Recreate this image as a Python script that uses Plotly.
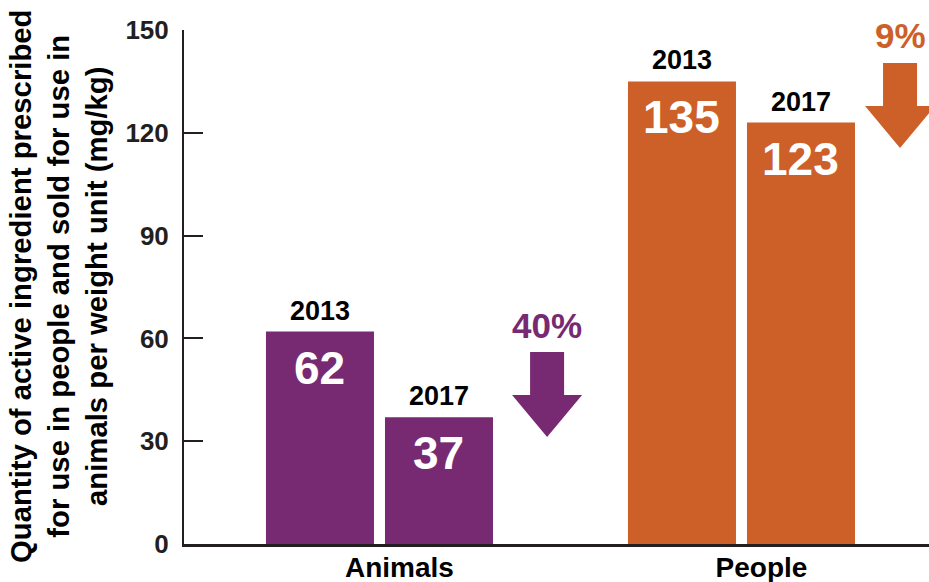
import plotly.graph_objects as go

# ---------------- data ----------------
categories = ["Animals", "People"]
years = ["2013", "2017"]
values_2013 = [62, 135]
values_2017 = [37, 123]
percent_drop = ["40%", "9%"]
y_tick_values = [0, 30, 60, 90, 120, 150]
y_title = ("Quantity of active ingredient prescribed<br>"
           "for use in people and sold for use in<br>"
           "animals per weight unit (mg/kg)")

# ---------------- style / layout constants ----------------
W, H = 929, 582
ML, MR, MT, MB = 184, 0, 30, 38
PLOT_W = W - ML - MR
PLOT_H = H - MT - MB
X_RANGE = [-0.540, 1.518]
Y_RANGE = [0, 150]
BARGAP = 0.3425
BARGROUPGAP = 0.0924
BAR_COLORS = ["#772a72", "#cd6028"]
INK = "#231f20"
FONT = "Liberation Sans, Arial, sans-serif"

# pixel -> data unit conversions
UX = (X_RANGE[1] - X_RANGE[0]) / PLOT_W
UY = (Y_RANGE[1] - Y_RANGE[0]) / PLOT_H
BAR_OFFSET = (1 - BARGAP) / 4  # centre of each bar relative to category

# arrows (decoration positions)
ARROW_X = [0.463, 0.438]      # offset from category centre
ARROW_TOP = [56.0, 140.4]     # top of arrow shaft, data units
SHAFT_HALF, HEAD_HALF, SHAFT_LEN, HEAD_LEN = 17, 35, 43, 42  # px

xs = list(range(len(categories)))

fig = go.Figure()
for yr, vals in zip(years, [values_2013, values_2017]):
    fig.add_trace(go.Bar(
        x=xs, y=vals, name=yr,
        marker=dict(color=BAR_COLORS, line=dict(width=0)),
        hoverinfo="skip", showlegend=False,
    ))

annotations = []
for j, (yr, vals) in enumerate(zip(years, [values_2013, values_2017])):
    off = -BAR_OFFSET if j == 0 else BAR_OFFSET
    for i, v in enumerate(vals):
        annotations.append(dict(
            x=i + off, y=v, xref="x", yref="y", text=yr, showarrow=False,
            xanchor="center", yanchor="middle", yshift=21,
            font=dict(family=FONT, size=27, color="#000000", weight="bold"),
        ))
        annotations.append(dict(
            x=i + off, y=v, xref="x", yref="y", text=str(v), showarrow=False,
            xanchor="center", yanchor="middle", yshift=-36,
            font=dict(family=FONT, size=46, color="#ffffff", weight="bold"),
        ))

shapes = []
for i, pct in enumerate(percent_drop):
    cx = i + ARROW_X[i]
    top = ARROW_TOP[i]
    sw, hw = SHAFT_HALF * UX, HEAD_HALF * UX
    sl, hl = SHAFT_LEN * UY, HEAD_LEN * UY
    path = (f"M {cx - sw} {top} L {cx + sw} {top} L {cx + sw} {top - sl} "
            f"L {cx + hw} {top - sl} L {cx} {top - sl - hl} L {cx - hw} {top - sl} "
            f"L {cx - sw} {top - sl} Z")
    shapes.append(dict(type="path", path=path, xref="x", yref="y",
                       fillcolor=BAR_COLORS[i], line=dict(width=0), layer="above"))
    annotations.append(dict(
        x=cx, y=top, xref="x", yref="y", text=pct, showarrow=False,
        xanchor="center", yanchor="middle", yshift=27,
        font=dict(family=FONT, size=35, color=BAR_COLORS[i], weight="bold"),
    ))

# y axis title as rotated annotation
annotations.append(dict(
    x=(58 - ML) / PLOT_W, y=(H - MB - 286) / PLOT_H, xref="paper", yref="paper",
    text=y_title, showarrow=False, textangle=-90, align="center",
    xanchor="center", yanchor="middle",
    font=dict(family=FONT, size=29.3, color="#000000", weight="bold"),
))

fig.update_layout(
    width=W, height=H,
    margin=dict(l=ML, r=MR, t=MT, b=MB, pad=0, autoexpand=False),
    paper_bgcolor="white", plot_bgcolor="white",
    barmode="group", bargap=BARGAP, bargroupgap=BARGROUPGAP,
    annotations=annotations, shapes=shapes,
    xaxis=dict(
        range=X_RANGE, tickvals=xs, ticktext=categories, automargin=False,
        showline=True, linecolor=INK, linewidth=3, ticks="",
        showgrid=False, zeroline=False, ticklabelshift=20, ticklabelstandoff=-4,
        tickfont=dict(family=FONT, size=28, color="#000000", weight="bold"),
    ),
    yaxis=dict(
        range=Y_RANGE, tickvals=y_tick_values, automargin=False,
        showline=True, linecolor=INK, linewidth=2,
        ticks="inside", ticklen=19, tickwidth=2, tickcolor=INK,
        showgrid=False, zeroline=False, ticklabelstandoff=8,
        tickfont=dict(family=FONT, size=26, color=INK, weight="bold"),
    ),
)

fig.write_html(
    "out.html",
    config={"displayModeBar": False},
    post_script="document.body.style.margin='0';document.body.style.overflow='hidden';",
)
